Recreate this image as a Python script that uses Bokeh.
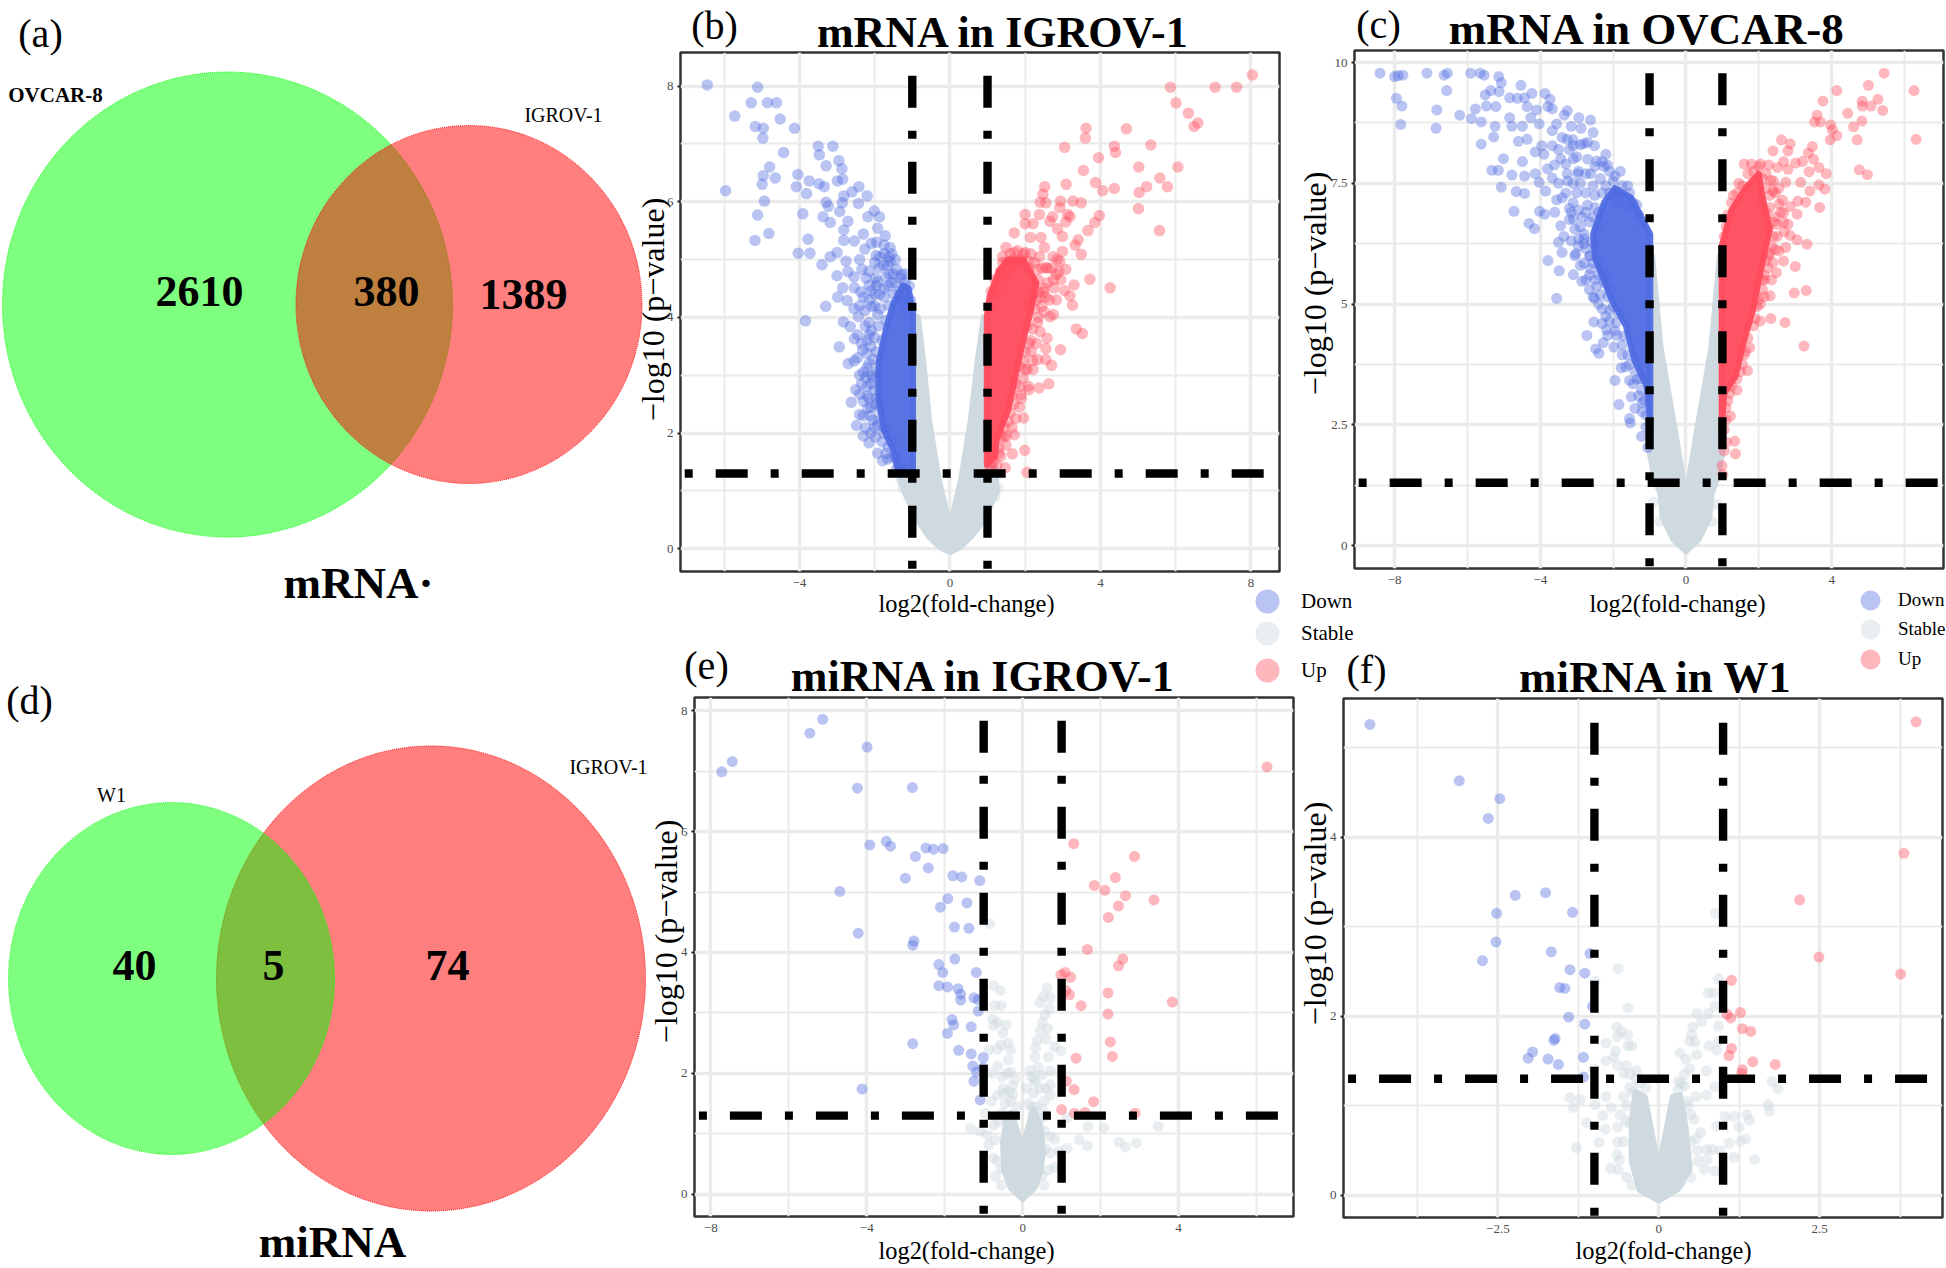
from math import pi
from bokeh.plotting import figure
from bokeh.models import Label, Legend, LegendItem, FixedTicker, Range1d
from bokeh.embed import file_html
from bokeh.resources import INLINE

SERIF = "Liberation Serif"
BLUE, RED, GREY = "#4f6ce1", "#ff4b5c", "#cfd9e0"

# ---- volcano (b) mRNA in IGROV-1
b_down = [(-6.45,8.02),(-5.11,7.98),(-5.28,7.71),(-4.85,7.71),(-4.61,7.71),(-5.72,7.48),(-4.51,7.43),(-5.17,7.30),(-4.96,7.27),(-4.13,7.27),(-4.97,7.10),(-3.50,6.96),(-3.11,6.96),(-4.42,6.85),(-3.47,6.81),(-2.95,6.71),(-3.29,6.62),(-4.79,6.60),(-2.87,6.57),(-4.04,6.47),(-4.96,6.45),(-4.64,6.41),(-3.74,6.36),(-2.85,6.39),(-2.99,6.36),(-4.99,6.30),(-3.48,6.31),(-3.34,6.26),(-4.08,6.26),(-5.96,6.19),(-2.42,6.26),(-3.81,6.14),(-2.6,6.17),(-2.82,6.10),(-2.2,6.1),(-4.93,6.01),(-3.29,5.99),(-2.43,5.97),(-2.86,5.98),(-3.23,5.92),(-3.91,5.79),(-5.11,5.77),(-2.93,5.83),(-3.37,5.74),(-2.01,5.84),(-2.18,5.74),(-1.87,5.74),(-3.18,5.64),(-2.71,5.66),(-2.82,5.51),(-1.92,5.54),(-4.81,5.45),(-2.3,5.44),(-1.72,5.41),(-5.18,5.33),(-3.77,5.35),(-2.82,5.33),(-2.54,5.32),(-2.09,5.28),(-1.59,5.21),(-4.03,5.11),(-3.72,5.11),(-3.0,5.12),(-3.18,5.05),(-2.26,5.18),(-1.96,5.07),(-3.4,4.91),(-2.76,4.97),(-1.62,5.04),(-2.34,4.83),(-2.71,4.79),(-3.0,4.72),(-1.87,4.86),(-1.29,4.74),(-2.23,4.68),(-2.85,4.51),(-2.54,4.51),(-1.92,4.61),(-2.98,4.35),(-2.73,4.29),(-2.37,4.44),(-3.3,4.19),(-2.09,4.46),(-2.43,4.01),(-3.84,3.94),(-2.83,3.92),(-2.65,3.84),(-2.15,3.91),(-2.54,3.63),(-2.94,3.49),(-2.2,3.6),(-2.32,3.44),(-2.7,3.2),(-2.54,3.25),(-2.2,3.13),(-2.4,2.67),(-2.62,2.53),(-2.2,2.64),(-1.87,2.43),(-2.4,2.32),(-2.48,2.13),(-2.24,2.09),(-2.15,1.83),(-1.92,1.65),(-1.79,1.52),(-2.04,2.22),
          (-1.42,4.83),(-1.08,4.54),(-1.31,4.68),(-1.59,4.97),(-1.76,4.9),(-1.98,4.68),(-1.64,4.54),(-1.87,4.4),(-2.09,4.19),(-1.92,4.05),(-2.26,4.12),(-2.09,3.77),(-2.2,3.38),(-2.04,3.27),(-2.23,2.96),(-2.09,2.85),(-2.15,2.6),(-1.98,2.5),(-2.18,2.43),(-1.92,2.14),(-1.76,2.0),(-1.64,1.76),(-1.53,1.58),(-1.42,1.37),(-1.7,1.65),(-1.98,1.93),(-1.55,5.1),(-1.75,5.25),(-1.95,5.3),(-1.45,5.0),(-1.2,4.6),(-1.7,4.7),(-2.15,4.8),(-2.4,5.0),(-2.55,4.7),(-2.15,4.3),(-2.4,4.2),(-2.45,3.7),(-2.1,3.5),(-2.3,3.05),(-2.35,2.85),(-2.3,2.55),(-2.05,2.95),(-2.12,2.3),(-2.3,1.95),(-1.6,4.75),(-1.45,4.6),(-1.35,4.45),(-1.25,4.35),
          (-1.05,4.3),(-1.15,4.15),(-1.3,4.3),(-1.5,4.4),(-1.62,4.2),(-1.75,4.35),(-1.85,4.15),(-2.0,4.4),(-1.7,3.95),(-1.9,3.85),(-2.0,3.65),(-1.8,3.6),(-1.95,3.4),(-2.15,3.2),(-1.95,3.05),(-2.1,3.0),(-2.2,2.8),(-2.0,2.75),(-1.95,2.6),(-2.1,2.45),(-1.85,2.25),(-2.0,2.1),(-1.75,2.1),(-1.8,1.85),(-1.55,1.85),(-1.65,1.55),(-1.45,1.6),(-1.35,1.45),(-1.2,4.75),(-1.5,4.75),(-1.65,4.9),(-1.85,5.05),(-1.75,5.1),(-2.0,4.95),(-1.55,4.6),(-1.75,4.5),(-1.95,4.55),(-2.15,4.55),(-2.3,4.35),(-2.0,4.2),(-2.55,4.15),(-2.25,3.85),(-2.35,3.55),(-2.45,3.3),(-2.15,3.7),(-2.4,3.0),(-2.5,2.75),(-2.3,2.3),(-2.1,2.0)]
b_up = [(8.04,8.19),(5.86,7.98),(7.05,7.98),(7.62,7.98),(6.01,7.71),(6.34,7.53),(6.59,7.36),(6.49,7.30),(3.62,7.27),(4.69,7.26),(3.6,7.1),(5.34,6.98),(3.05,6.94),(4.37,6.96),(4.4,6.85),(3.95,6.76),(5.02,6.6),(6.06,6.6),(3.55,6.54),(5.58,6.41),(3.87,6.33),(3.09,6.3),(2.52,6.26),(5.23,6.26),(5.78,6.26),(4.06,6.19),(4.37,6.23),(5.03,6.16),(2.47,6.13),(2.4,5.99),(2.55,5.98),(2.94,6.01),(3.27,6.01),(3.49,5.98),(5.01,5.88),(2.92,5.9),(3.13,5.78),(2.38,5.78),(2.0,5.78),(3.97,5.76),(2.73,5.74),(3.19,5.74),(2.66,5.66),(3.08,5.65),(2.0,5.62),(2.21,5.62),(3.85,5.64),(2.86,5.53),(3.67,5.5),(5.57,5.5),(1.71,5.46),(2.14,5.38),(2.42,5.38),(2.99,5.4),(3.41,5.34),(3.33,5.25),(1.49,5.21),(2.51,5.21),(2.99,5.14),(3.49,5.09),(1.71,5.12),(2,5.12),(2.38,5.05),(2.74,5.05),(2.92,4.97),(2.1,4.97),(3.08,4.83),(2.55,4.86),(2.33,4.83),(2.83,4.74),(3.72,4.66),(3.3,4.56),(4.26,4.51),(3.05,4.46),(2.77,4.51),(3.19,4.37),(2.49,4.44),(2.83,4.3),(3.26,4.21),(2.44,4.19),(2.66,4.01),(2.33,3.91),(3.36,3.8),(3.52,3.72),(2.58,3.64),(2.55,3.46),(2.94,3.44),(2.16,3.41),(2.55,3.27),(2.33,3.27),(2.7,3.17),(2.05,3.1),(2.21,3.1),(2.63,2.85),(2.37,2.78),(2.08,2.81),(1.88,2.66),(1.96,2.26),(1.71,1.97),(1.43,1.93),(1.99,1.7),(1.66,1.64),(1.49,1.79),(1.47,1.4),(2.05,1.32),(1.1,1.44),
        (1.1,4.45),(1.2,4.65),(1.35,4.8),(1.5,4.95),(1.4,5.05),(1.6,5.1),(1.8,5.15),(1.9,5.0),(2.1,4.85),(2.35,4.65),(2.6,4.6),(2.7,4.85),(2.85,5.0),(2.95,4.65),(2.55,4.35),(2.3,4.3),(2.35,4.0),(2.2,3.8),(2.4,3.75),(2.1,3.55),(2.2,3.25),(1.95,3.25),(1.95,2.95),(2.1,2.75),(1.85,2.8),(1.7,2.5),(1.85,2.45),(1.55,2.2),(1.75,2.25),(1.5,1.95),(1.3,1.75),(1.35,1.6),(1.25,1.45),(1.05,1.35),(1.65,2.1),
        (1.05,4.2),(1.2,4.4),(1.35,4.55),(1.55,4.7),(1.75,4.9),(1.95,5.1),(2.15,5.1),(2.25,4.95),(2.45,4.85),(2.6,4.85),(2.75,4.65),(2.35,4.45),(2.5,4.5),(2.2,4.4),(2.05,4.2),(2.25,4.15),(2.4,4.35),(2.05,3.85),(2.15,3.6),(2.3,3.55),(2.0,3.4),(1.85,3.15),(2.0,3.1),(1.75,2.85),(1.9,2.6),(1.65,2.65),(1.6,2.35),(1.45,2.1),(1.35,1.95),(1.3,1.65),(1.15,1.5),(1.6,4.85),(1.4,4.95),(1.7,5.0),(2.9,4.8),(2.65,4.3),(2.5,4.1),(2.75,4.05)]
b_stable = [(1.2,0.9),(1.27,1.05),(1.15,1.15),(-1.3,1.2),(-1.25,1.05),(-0.95,0.6),(0.95,0.55)]
b_stable_cloud = [(0,-0.06),(-0.25,0.02),(-0.55,0.2),(-0.85,0.5),(-1.15,0.9),(-1.3,1.15),(-1.3,1.4),(-1.0,1.4),(-1.0,4.05),(-0.85,4.0),(-0.72,3.3),(-0.55,2.2),(-0.3,1.2),(0,0.38),(0.3,1.2),(0.55,2.2),(0.75,3.3),(0.9,4.0),(1.0,4.05),(1.0,1.4),(1.2,1.4),(1.25,1.0),(1.05,0.7),(0.85,0.45),(0.55,0.2),(0.25,0.02)]
b_down_core = [(-0.98,1.3),(-1.4,1.4),(-1.5,1.7),(-1.75,2.05),(-1.9,2.6),(-1.9,3.2),(-1.7,3.8),(-1.5,4.25),(-1.25,4.55),(-1.1,4.5),(-0.98,4.1)]
b_up_core = [(0.98,1.45),(1.2,1.6),(1.25,1.9),(1.55,2.4),(1.75,3.0),(1.95,3.6),(2.15,4.1),(2.3,4.6),(1.95,5.0),(1.55,5.0),(1.3,4.8),(1.05,4.35),(0.98,4.0)]

# ---- volcano (c) mRNA in OVCAR-8
c_down = [(-8.4,9.78),(-8.0,9.71),(-7.77,9.74),(-7.9,9.73),(-7.11,9.78),(-6.64,9.74),(-6.55,9.78),(-5.91,9.78),(-5.65,9.78),(-5.54,9.74),(-5.14,9.71),(-5.07,9.58),(-4.53,9.53),(-6.57,9.42),(-7.95,9.26),(-7.8,9.1),(-6.84,9.02),(-7.83,8.72),(-6.86,8.64),(-6.21,8.91),(-5.89,8.84),(-5.78,9.04),(-5.62,8.77),(-5.62,8.31),(-5.28,8.46),(-5.24,8.68),(-5.48,9.1),(-5.36,9.42),(-5.51,9.33),(-5.13,9.4),(-5.22,9.09),(-4.84,9.27),(-4.43,9.27),(-4.23,9.36),(-4.63,9.26),(-3.87,9.36),(-3.73,9.24),(-3.67,9.04),(-4.1,9.02),(-3.79,9.09),(-4.36,9.09),(-4.84,8.86),(-4.26,8.86),(-4.78,8.68),(-4.49,8.68),(-4.03,8.73),(-3.26,9.0),(-2.94,8.86),(-2.62,8.81),(-3.34,8.91),(-3.55,8.73),(-3.15,8.68),(-2.88,8.64),(-3.67,8.59),(-4.36,8.41),(-4.6,8.37),(-3.96,8.28),(-3.67,8.28),(-3.26,8.41),(-3.09,8.28),(-2.8,8.32),(-2.51,8.28),(-5.01,8.01),(-5.33,7.77),(-5.15,7.77),(-4.78,7.67),(-5.07,7.42),(-4.49,7.95),(-4.14,8.15),(-3.9,8.1),(-3.61,7.88),(-3.44,8.01),(-3.09,8.01),(-4.43,7.65),(-4.14,7.7),(-4.66,7.33),(-4.43,7.29),(-4.03,7.52),(-3.85,7.34),(-3.67,7.61),(-3.26,7.7),(-2.97,7.7),(-2.62,7.7),(-2.16,7.88),(-2.45,7.96),(-4.72,6.92),(-4.02,6.92),(-3.88,6.86),(-4.31,6.67),(-4.16,6.56),(-3.55,7.16),(-3.2,6.98),(-3.44,6.62),(-3.09,6.76),(-3.5,6.28),(-3.15,6.31),(-2.8,6.35),(-3.79,5.9),(-3.4,6.07),(-3.03,6.04),(-3.48,5.69),(-3.09,5.61),(-2.62,6.0),(-2.62,5.73),(-2.86,5.47),(-2.45,5.37),(-3.55,5.12),(-2.51,5.12),(-2.1,4.87),(-2.53,4.63),(-2.72,4.35),(-2.18,4.47),(-1.92,4.61),(-2.27,4.2),(-2.48,4.07),(-2.39,3.98),(-1.98,4.11),(-1.71,4.34),(-1.78,3.68),(-1.95,3.42),(-1.55,3.42),(-1.34,3.44),(-1.5,3.08),(-1.84,2.92),(-1.4,2.84),(-1.2,2.77),(-1.55,2.63),(-1.53,2.54),(-1.22,2.26),(-1.05,2.03),(-1.22,3.22),
          (-2.9,7.5),(-2.75,7.3),(-2.55,7.45),(-2.35,7.6),(-2.2,7.45),(-2.0,7.55),(-1.85,7.3),(-1.7,7.2),(-2.7,7.05),(-2.5,7.0),(-2.85,6.8),(-2.65,6.7),(-2.8,6.45),(-2.6,6.3),(-2.75,6.15),(-2.55,5.85),(-2.4,5.6),(-2.25,5.45),(-2.35,5.2),(-2.15,5.15),(-2.0,4.95),(-1.85,4.8),(-1.95,4.45),(-1.75,4.15),(-1.6,3.95),(-1.55,3.75),(-1.4,3.6),(-1.25,3.45),(-1.15,3.0),(-1.1,2.7),(-1.6,7.0),(-1.45,7.1),(-1.3,6.85),(-1.2,6.65),(-3.0,7.3),(-3.1,7.1),(-3.3,7.3),(-3.05,6.55),(-2.95,6.2),(-3.2,6.75),(-2.9,5.8),(-2.75,5.5),(-2.65,5.3),(-2.3,4.9),(-2.2,4.75),(-1.6,7.45),(-1.8,7.75),(-2.25,7.85),(-3.0,8.05),(-2.7,8.0),(-2.9,8.3),(-3.4,8.45),(-3.2,8.2),(-3.5,7.5),(-3.6,6.9),(-3.35,6.4),
          (-2.5,7.85),(-2.3,7.95),(-2.1,7.75),(-1.95,7.65),(-1.75,7.45),(-1.55,7.3),(-1.35,7.05),(-2.75,7.7),(-2.95,7.75),(-3.1,7.5),(-3.25,7.55),(-3.4,7.2),(-3.15,6.9),(-2.95,6.95),(-2.9,6.6),(-2.75,6.9),(-2.55,6.8),(-2.95,6.35),(-2.8,6.25),(-3.05,6.0),(-2.65,6.0),(-2.8,5.85),(-2.65,5.6),(-2.5,5.5),(-2.55,5.15),(-2.4,5.0),(-2.3,4.6),(-2.1,4.65),(-2.15,4.35),(-1.9,4.35),(-1.75,3.95),(-1.65,3.7),(-1.45,3.35),(-1.3,3.1),(-1.2,2.95),(-1.1,2.45),(-2.3,7.3),(-2.1,7.3),(-2.5,7.25),(-1.9,7.1),(-2.4,6.9),(-2.45,6.55),(-2.5,6.2),(-2.35,5.9),(-2.2,5.6),(-2.05,5.3),(-3.5,8.2),(-3.1,8.4),(-2.7,8.35),(-2.55,8.55),(-2.2,8.1),(-3.3,7.9),(-3.8,7.8)]
c_up = [(5.44,9.78),(5.01,9.53),(6.26,9.42),(4.14,9.42),(4.84,9.2),(5.27,9.24),(5.08,9.1),(5.4,9.01),(3.76,9.2),(4.84,9.1),(4.44,8.95),(3.6,8.91),(3.53,8.77),(3.69,8.77),(4.83,8.79),(3.97,8.71),(4.6,8.67),(4.02,8.61),(4.14,8.49),(3.96,8.4),(4.7,8.4),(6.32,8.41),(2.62,8.4),(2.86,8.32),(2.39,8.17),(2.8,8.17),(3.47,8.26),(3.36,8.13),(3.5,8.0),(3.01,7.92),(3.2,7.95),(2.68,7.95),(2.27,7.88),(3.65,7.83),(3.85,7.7),(3.38,7.74),(2.8,7.79),(2.51,7.83),(4.76,7.78),(4.98,7.68),(3.15,7.52),(2.33,7.56),(2.74,7.52),(3.65,7.47),(3.81,7.38),(3.4,7.34),(2.39,7.34),(3.07,7.13),(3.29,7.11),(2.56,7.07),(3.67,7.0),(2.86,7.02),(3.05,6.86),(2.68,6.89),(2.45,6.8),(2.68,6.69),(2.27,6.58),(2.86,6.42),(3.05,6.33),(3.32,6.24),(2.74,6.17),(2.45,6.13),(2.68,5.89),(3.0,5.78),(2.48,5.65),(3.3,5.28),(2.97,5.23),(2.31,5.17),(2.33,4.7),(2.72,4.62),(2.04,4.65),(3.24,4.13),(1.69,3.62),(1.4,3.22),(1.22,2.68),(1.34,2.16),(1.11,2.14),(1.36,1.9),(0.99,1.65),(1.01,1.47),(1.05,1.96),(1.63,4.02),(2.04,5.0),(2.16,5.5),(2.39,5.86),(2.27,6.0),
        (1.1,6.6),(1.25,7.1),(1.4,7.3),(1.55,7.45),(1.7,7.7),(1.85,7.75),(2.1,7.6),(2.2,7.4),(2.05,7.1),(2.3,7.0),(2.4,6.7),(2.5,6.4),(2.35,6.2),(2.2,5.9),(2.15,5.6),(2.1,5.3),(1.95,4.95),(1.85,4.55),(1.7,4.3),(1.6,3.95),(1.5,3.6),(1.25,3.3),(1.15,3.0),(1.1,2.6),(2.0,7.85),(1.6,7.9),(2.45,7.3),(2.6,6.9),(2.7,6.5),
        (1.05,6.4),(1.15,6.85),(1.3,7.25),(1.45,7.5),(1.8,7.9),(2.05,7.9),(2.2,7.7),(2.3,7.25),(2.2,6.9),(2.4,6.4),(2.5,6.65),(2.3,6.05),(2.25,5.75),(2.1,5.5),(2.15,5.15),(2.0,5.1),(1.9,4.7),(1.75,4.1),(1.55,3.75),(1.4,3.45),(1.2,3.15),(1.1,2.85),(1.05,2.4),(2.55,7.4),(2.4,7.55),(2.65,7.15),(2.8,6.65),(2.55,6.1),(2.35,5.5)]
c_stable = [(-0.9,0.9),(0.85,0.85),(-0.72,0.5),(0.72,0.5)]
c_stable_cloud = [(0,-0.12),(-0.35,0.13),(-0.64,0.57),(-0.7,1.07),(-0.87,1.42),(-1.0,1.95),(-1.0,6.05),(-0.93,5.99),(-0.7,4.11),(-0.29,2.32),(0,0.98),(0.29,2.32),(0.7,4.11),(0.93,5.99),(1.0,6.05),(1.0,1.95),(0.87,1.42),(0.7,1.07),(0.64,0.57),(0.35,0.13)]
c_down_core = [(-0.98,2.5),(-1.08,3.3),(-1.42,3.85),(-1.65,4.55),(-2.05,5.1),(-2.5,5.95),(-2.55,6.45),(-2.25,7.1),(-1.95,7.4),(-1.5,7.2),(-0.98,6.45)]
c_up_core = [(0.98,2.4),(1.05,3.15),(1.36,3.5),(1.58,4.2),(1.85,4.9),(2.0,5.5),(2.3,6.55),(2.08,7.3),(2.0,7.7),(1.63,7.4),(1.25,6.95),(0.98,6.2)]

# ---- volcano (e) miRNA in IGROV-1
e_down = [(-7.72,6.99),(-7.45,7.16),(-5.46,7.63),(-5.13,7.86),(-3.99,7.4),(-4.24,6.72),(-2.83,6.73),(-3.92,5.78),(-3.5,5.84),(-3.39,5.76),(-2.48,5.73),(-2.29,5.71),(-2.04,5.72),(-2.75,5.59),(-2.42,5.4),(-3.01,5.23),(-1.79,5.27),(-1.56,5.25),(-1.1,5.19),(-4.69,5.01),(-1.92,4.89),(-1.43,4.82),(-2.11,4.75),(-1.75,4.42),(-1.38,4.4),(-4.22,4.32),(-2.79,4.19),(-2.82,4.12),(-1.74,3.89),(-2.15,3.8),(-2.05,3.67),(-1.19,3.67),(-2.15,3.45),(-1.93,3.43),(-1.66,3.4),(-1.59,3.31),(-1.59,3.21),(-1.25,3.25),(-1.14,3.22),(-1.14,3.03),(-1.81,2.89),(-1.77,2.8),(-1.32,2.77),(-1.93,2.66),(-2.82,2.49),(-1.64,2.38),(-1.32,2.32),(-1.01,2.26),(-1.28,2.12),(-1.02,2.09),(-1.18,2.02),(-1.25,1.87),(-4.12,1.74),(-1.09,1.56)]
e_up = [(6.27,7.07),(1.31,5.8),(2.87,5.59),(2.38,5.24),(1.84,5.11),(2.11,5.03),(2.64,4.94),(3.37,4.87),(2.46,4.77),(2.2,4.58),(1.66,4.05),(2.57,3.89),(2.46,3.78),(1.09,3.67),(0.98,3.63),(1.23,3.59),(1.11,3.37),(1.2,3.3),(2.19,3.33),(3.84,3.18),(1.5,3.12),(2.19,2.98),(2.25,2.52),(2.3,2.28),(1.37,2.25),(1.12,1.87),(1.32,1.73),(1.82,1.53),(1.0,1.4),(1.33,1.34),(1.6,1.35),(2.89,1.34)]
e_stable = [(-0.85,4.48),(-0.74,3.45),(-0.57,3.37),(-0.72,3.12),(-0.55,3.12),(0.63,3.41),(0.53,3.27),(0.71,3.25),(0.44,3.17),(0.68,3.07),(0.57,2.97),(-0.77,2.9),(-0.64,2.84),(-0.42,2.8),(-0.74,2.79),(0.5,2.84),(0.64,2.74),(0.44,2.7),(-0.51,2.67),(0.37,2.54),(0.6,2.57),(-0.37,2.5),(-0.55,2.47),(-0.64,2.4),(-0.85,2.39),(-0.31,2.39),(0.33,2.42),(0.82,2.44),(0.98,2.37),(0.31,2.27),(0.66,2.27),(-0.37,2.22),(-0.64,2.12),(-0.31,2.02),(-0.8,2.0),(-0.53,1.94),(0.23,1.94),(0.5,1.97),(0.71,2.04),(-0.26,1.79),(0.33,1.84),(0.71,1.81),(-0.47,1.67),(0.28,1.67),(-0.64,1.64),(-0.8,1.54),(0.55,1.54),(0.71,1.64),(-0.31,1.54),(0.23,1.44),(0.5,1.41),(1.14,1.27),(-0.53,1.34),(-1.34,1.09),(-1.09,1.04),(1.68,1.12),(2.08,1.1),(3.48,1.12),(-0.87,0.82),(1.45,0.9),(1.66,0.8),(2.47,0.86),(2.92,0.85),(2.64,0.78),(0.82,0.91),(1.14,0.76),(0.93,0.71),(0.82,0.44),(-0.55,0.41),(0.5,0.31),(0.71,0.68),(-0.74,1.14),(-0.96,1.34),(-0.91,0.98),
            (-0.6,1.2),(-0.7,0.9),(-0.65,0.55),(-0.7,0.3),(-0.45,1.5),(-0.35,1.7),(-0.2,1.3),(0.15,1.5),(0.45,1.25),(0.6,1.3),(0.7,0.95),(0.65,0.4),(0.55,0.15),(-0.55,0.15),(-0.4,1.2),(0.4,1.0),(0.3,1.9),(-0.2,1.9),
            (-0.5,1.75),(-0.4,2.0),(-0.25,1.65),(-0.15,1.45),(0.1,1.75),(0.2,2.05),(0.4,2.1),(0.45,1.75),(0.6,1.75),(0.35,1.45),(-0.75,0.6),(-0.45,0.9),(0.6,0.75),(0.55,1.05),(-0.35,1.05),(0.25,1.3)]
e_stable_cloud = [(0,-0.08),(-0.3,0.1),(-0.48,0.4),(-0.5,0.85),(-0.42,1.2),(-0.3,1.35),(-0.12,1.0),(0,0.8),(0.12,1.05),(0.28,1.4),(0.45,1.15),(0.52,0.7),(0.45,0.35),(0.3,0.1)]

# ---- volcano (f) miRNA in W1
f_down = [(-4.49,5.26),(-3.1,4.63),(-2.47,4.43),(-2.65,4.21),(-2.23,3.35),(-1.76,3.38),(-2.52,3.15),(-1.34,3.16),(-2.53,2.83),(-1.67,2.72),(-1.07,2.7),(-2.74,2.62),(-1.38,2.52),(-1.15,2.48),(-1.54,2.32),(-1.46,2.31),(-1.03,2.11),(-1.4,1.99),(-1.15,1.91),(-1.61,1.75),(-1.63,1.73),(-1.96,1.6),(-2.03,1.53),(-1.72,1.52),(-1.56,1.46),(-1.17,1.54),(-1.17,1.32)]
f_up = [(4.0,5.29),(3.81,3.82),(2.19,3.3),(2.49,2.66),(3.76,2.47),(1.13,2.4),(1.06,2.02),(1.12,1.98),(1.27,2.04),(1.3,1.86),(1.43,1.83),(1.13,1.64),(1.09,1.56),(1.46,1.49),(1.81,1.46),(1.3,1.4),(1.29,1.36)]
f_stable = [(0.88,3.15),(-0.63,2.53),(-0.99,2.39),(0.93,2.42),(0.77,2.26),(0.85,2.26),(0.87,2.11),(-0.48,2.09),(0.59,2.03),(0.77,2.03),(0.67,1.94),(-0.65,1.88),(-0.58,1.83),(0.93,1.89),(0.53,1.88),(-0.48,1.79),(-0.64,1.77),(0.51,1.79),(0.48,1.72),(-0.82,1.7),(-0.48,1.67),(-0.42,1.67),(0.56,1.71),(0.93,1.72),(0.78,1.67),(-0.67,1.61),(-0.7,1.54),(0.33,1.59),(0.59,1.57),(0.9,1.62),(0.42,1.52),(-0.82,1.5),(-0.64,1.45),(-1.01,1.41),(0.48,1.41),(0.74,1.39),(-0.54,1.36),(-0.35,1.39),(1.76,1.27),(1.85,1.19),(0.31,1.27),(0.87,1.21),(-1.38,1.09),(-1.22,1.07),(-0.82,1.1),(-0.99,1.01),(-1.33,0.98),(-0.74,0.98),(1.7,1.01),(1.72,0.94),(0.74,1.12),(0.58,1.1),(1.03,0.88),(1.17,0.88),(1.37,0.9),(1.41,0.84),(-0.87,0.89),(-1.12,0.81),(-0.83,0.74),(-0.64,0.76),(0.9,0.77),(1.25,0.76),(1.27,0.6),(1.35,0.63),(1.09,0.58),(-0.93,0.59),(-0.64,0.59),(-1.28,0.53),(1.17,0.42),(1.49,0.4),(-0.61,0.39),(-0.63,0.28),(0.83,0.51),(0.74,0.51),(0.58,0.63),(-0.51,0.83),(0.71,0.29),(0.87,0.27),(0.61,0.38),(-0.42,0.11),
            (-0.55,1.1),(-0.6,0.9),(-0.55,0.6),(-0.5,0.2),(-0.35,1.3),(-0.4,1.15),(-0.3,1.0),(-0.2,0.8),(0.25,1.05),(0.35,1.25),(0.45,1.0),(0.55,0.85),(0.6,0.5),(0.65,0.7),(0.5,0.2),(-0.3,0.55),(-0.65,0.45),(-0.75,0.3),(0.75,0.4),(0.95,0.5),(-0.5,1.45),
            (-0.45,1.2),(-0.5,1.0),(-0.45,0.8),(-0.4,0.55),(-0.35,0.3),(-0.25,0.15),(-0.3,1.25),(-0.25,0.95),(-0.15,0.7),(0.15,0.65),(0.2,0.9),(0.3,1.18),(0.4,1.22),(0.45,1.05),(0.5,0.9),(0.5,0.6),(0.45,0.35),(0.35,0.15),(-0.45,1.35),(0.4,1.35),(-0.2,1.2)]
f_stable_cloud = [(0,-0.06),(-0.3,0.06),(-0.42,0.38),(-0.42,0.83),(-0.36,1.15),(-0.22,1.1),(0,0.29),(0.22,1.1),(0.33,1.12),(0.42,0.74),(0.48,0.29),(0.3,0.07)]

# ---- Venn diagrams
a_names = ["OVCAR-8", "IGROV-1"]
a_counts = ["2610", "380", "1389"]
d_names = ["W1", "IGROV-1"]
d_counts = ["40", "5", "74"]
legend_names = ["Down", "Stable", "Up"]
xlab = "log2(fold-change)"
ylab = "\u2212log10 (p\u2212value)"

PX_W, PX_H = 1946, 1268


def place(p, left, top):
    p.styles = {"position": "absolute", "left": f"{left}px", "top": f"{top}px"}
    return p


def xs(pts):
    return [a for a, _ in pts]


def ys(pts):
    return [b for _, b in pts]


def volcano(frame, canvas, xr, yr, xt, xm, yt, ym, vtop, hright, size):
    L, T, R, B = frame
    x0, y0, x1, y1 = canvas
    p = figure(output_backend="svg", toolbar_location=None,
               frame_width=R - L, frame_height=B - T,
               min_border_left=L - x0, min_border_right=x1 - R,
               min_border_top=T - y0, min_border_bottom=y1 - B,
               x_range=Range1d(*xr), y_range=Range1d(*yr))
    p.background_fill_color = None
    p.border_fill_color = None
    p.outline_line_color = "#333333"
    p.outline_line_width = 2.5
    p.xaxis.ticker = FixedTicker(ticks=xt, minor_ticks=xm)
    p.yaxis.ticker = FixedTicker(ticks=yt, minor_ticks=ym)
    for ax in (p.xaxis[0], p.yaxis[0]):
        ax.axis_line_color = None
        ax.minor_tick_line_color = None
        ax.major_tick_line_color = "#222222"
        ax.major_tick_line_width = 2
        ax.major_tick_out = 3
        ax.major_tick_in = 0
        ax.major_label_text_font = SERIF
        ax.major_label_text_font_size = "13px"
        ax.major_label_text_color = "#4d4d4d"
        ax.major_label_standoff = 3
    p.xaxis[0].major_tick_line_color = None
    for g in (p.xgrid[0], p.ygrid[0]):
        g.grid_line_color = "#ebebeb"
        g.grid_line_width = 3.4
        g.minor_grid_line_color = "#ebebeb"
        g.minor_grid_line_width = 2
    p._vtop, p._hright, p._size = vtop, hright, size
    return p


def cloud(p, pts, color, alpha=1.0):
    p.patch(xs(pts), ys(pts), fill_color=color, fill_alpha=alpha, line_color=color, line_alpha=alpha, line_width=6, line_join="round")


def dots(p, pts, color, alpha):
    return p.scatter(xs(pts), ys(pts), size=p._size, marker="circle", fill_color=color, fill_alpha=alpha, line_color=None)


def thresholds(p, xr):
    dash = "32 23 8 23"
    bottom = p.y_range.start
    for v in (-1, 1):
        p.line([v, v], [p._vtop, bottom], line_color="black", line_width=8.4, line_dash=dash, line_cap="butt")
    p.line([p._hright, xr[0]], [1.3, 1.3], line_color="black", line_width=8.4, line_dash=dash, line_cap="butt")


# ---- overlay canvas: both Venn diagrams and every free-standing text
pv = figure(output_backend="svg", toolbar_location=None, width=PX_W, height=PX_H,
            x_range=Range1d(0, PX_W), y_range=Range1d(PX_H, 0), min_border=0,
            x_axis_type=None, y_axis_type=None)
pv.background_fill_color = None
pv.border_fill_color = None
pv.outline_line_color = None
pv.grid.visible = False


def lbl(rx, ry, text, size, bold=False, angle=0.0):
    pv.add_layout(Label(x=rx, y=ry, text=text,
                        text_font=SERIF, text_font_size=f"{size}px", text_color="black",
                        text_font_style="bold" if bold else "normal",
                        text_align="center", text_baseline="middle", angle=angle))


def legend(left, centres, glyph, standoff, fs):
    styles = ((BLUE, 0.4), (GREY, 0.45), (RED, 0.4))
    for name, (c, a), cy in zip(legend_names, styles, centres):
        key = pv.scatter([-100], [-100], size=10, marker="circle", fill_color=c, fill_alpha=a, line_color=None)
        pv.add_layout(Legend(items=[LegendItem(label=name, renderers=[key])],
                             location=(left, PX_H - cy - glyph / 2), glyph_width=glyph, glyph_height=glyph,
                             padding=0, margin=0, label_standoff=standoff, background_fill_alpha=0, border_line_alpha=0,
                             label_text_font=SERIF, label_text_font_size=f"{fs}px", label_text_color="black"))


# ---- (b)
xrb = (-7.16, 8.76)
pb = volcano((680, 52, 1279, 571), (645, 0, 1300, 610), xrb, (-0.395, 8.58), [-4, 0, 4, 8], [-6, -2, 2, 6], [0, 2, 4, 6, 8], [1, 3, 5, 7], 8.18, 8.34, 11.5)
cloud(pb, b_stable_cloud, GREY)
dots(pb, b_stable, GREY, 0.45)
cloud(pb, b_down_core, BLUE, 0.95)
cloud(pb, b_up_core, RED, 0.95)
dots(pb, b_down, BLUE, 0.4)
dots(pb, b_up, RED, 0.4)
thresholds(pb, xrb)
legend(1237, (601, 633, 670), 60, 4, 21)
lbl(714, 25, "(b)", 40)
lbl(1003, 32, "mRNA in IGROV-1", 44, True)
lbl(966, 603, xlab, 24.4)
lbl(652, 309, ylab, 32, angle=pi / 2)

# ---- (c)
xrc = (-9.1, 7.07)
pc = volcano((1354, 50, 1943, 568), (1297, 0, 1946, 610), xrc, (-0.475, 10.25), [-8, -4, 0, 4], [-6, -2, 2, 6], [0, 2.5, 5, 7.5, 10], [1.25, 3.75, 6.25, 8.75], 9.78, 6.91, 11)
cloud(pc, c_stable_cloud, GREY)
dots(pc, c_stable, GREY, 0.45)
cloud(pc, c_down_core, BLUE, 0.95)
cloud(pc, c_up_core, RED, 0.95)
dots(pc, c_down, BLUE, 0.4)
dots(pc, c_up, RED, 0.4)
thresholds(pc, xrc)
legend(1845, (600, 629, 659), 50, 3, 19)
lbl(1378, 24, "(c)", 40)
lbl(1647, 28, "mRNA in OVCAR-8", 45, True)
lbl(1677, 603, xlab, 24.4)
lbl(1314, 283, ylab, 32, angle=pi / 2)

# ---- (e)
xre = (-8.42, 6.95)
pe = volcano((694, 697, 1293, 1216), (645, 640, 1310, 1268), xre, (-0.37, 8.22), [-8, -4, 0, 4], [-6, -2, 2, 6], [0, 2, 4, 6, 8], [1, 3, 5, 7], 7.835, 6.55, 11)
cloud(pe, e_stable_cloud, GREY)
dots(pe, e_stable, GREY, 0.45)
dots(pe, e_down, BLUE, 0.4)
dots(pe, e_up, RED, 0.4)
thresholds(pe, xre)
lbl(706, 665, "(e)", 40)
lbl(983, 676, "miRNA in IGROV-1", 44, True)
lbl(966, 1250, xlab, 24.4)
lbl(665, 931, ylab, 32, angle=pi / 2)

# ---- (f)
xrf = (-4.90, 4.41)
pf = volcano((1343, 698, 1942, 1217), (1297, 640, 1946, 1268), xrf, (-0.25, 5.55), [-2.5, 0, 2.5], [-3.75, -1.25, 1.25, 3.75], [0, 2, 4], [1, 3, 5], 5.28, 4.17, 11)
cloud(pf, f_stable_cloud, GREY)
dots(pf, f_stable, GREY, 0.45)
dots(pf, f_down, BLUE, 0.4)
dots(pf, f_up, RED, 0.4)
thresholds(pf, xrf)
lbl(1366, 669, "(f)", 40)
lbl(1656, 676, "miRNA in W1", 45, True)
lbl(1663, 1250, xlab, 24.4)
lbl(1314, 913, ylab, 32, angle=pi / 2)

# ---- Venn panels (a) and (d)
pv.ellipse([227], [304], width=[450], height=[465], fill_color="#00ff00", fill_alpha=0.5, line_color="#00ff00", line_dash="1 1", line_width=1)
pv.ellipse([468.5], [304], width=[346], height=[358], fill_color="#ff0000", fill_alpha=0.5, line_color="#ff0000", line_dash="1 1", line_width=1)
pv.ellipse([430.5], [978], width=[429], height=[465], fill_color="#ff0000", fill_alpha=0.5, line_color="#ff0000", line_dash="1 1", line_width=1)
pv.ellipse([171], [978], width=[326], height=[352], fill_color="#00ff00", fill_alpha=0.5, line_color="#00ff00", line_dash="1 1", line_width=1)

lbl(40, 33, "(a)", 40)
lbl(55, 94, a_names[0], 21, True)
lbl(563, 114, a_names[1], 20)
for cx, cy, t in zip((199, 386, 523), (291, 291, 294), a_counts):
    lbl(cx, cy, t, 44, True)
lbl(358, 582, "mRNA\u00b7", 45, True)
lbl(29, 700, "(d)", 40)
lbl(111, 794, d_names[0], 20)
lbl(608, 766, d_names[1], 20)
for cx, cy, t in zip((134, 273, 447), (965, 965, 965), d_counts):
    lbl(cx, cy, t, 44, True)
lbl(332, 1241, "miRNA", 45, True)

place(pb, 645, 0)
place(pc, 1297, 0)
place(pe, 645, 640)
place(pf, 1297, 640)
place(pv, 0, 0)

open("out.html", "w").write(file_html([pb, pc, pe, pf, pv], INLINE))
